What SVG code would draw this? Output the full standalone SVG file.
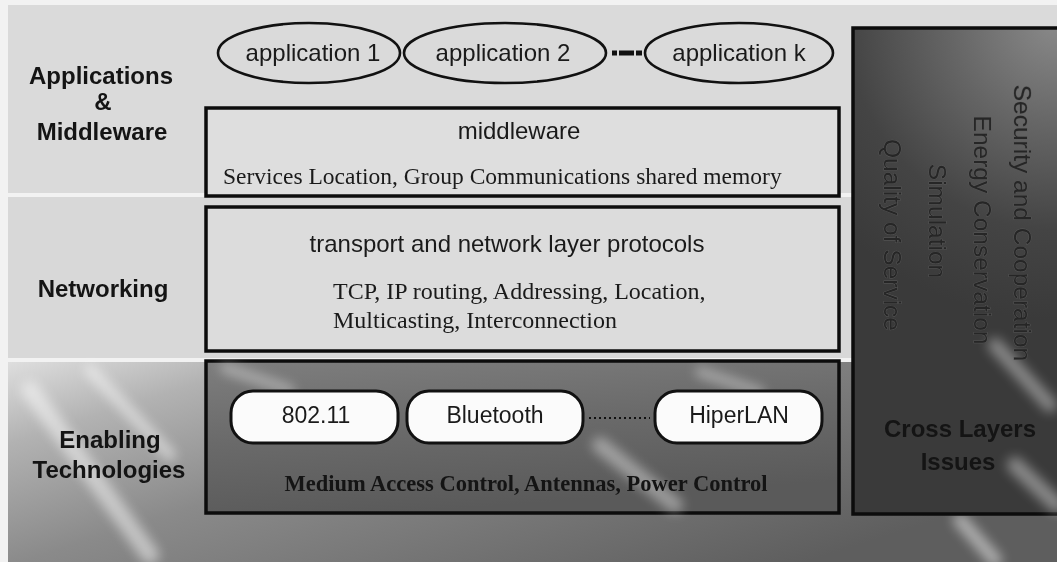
<svg xmlns="http://www.w3.org/2000/svg" width="1057" height="562" viewBox="0 0 1057 562">
  <style>
    .serif { font-family: "Liberation Serif", "Times New Roman", serif; }
    .lbl { font-family: "Liberation Sans", Arial, sans-serif; font-size: 24px; font-weight: bold; fill: #141414; text-anchor: middle; }
    .app { fill: none; stroke: #111; stroke-width: 2.6; }
    .apptxt { font-family: "Liberation Sans", Arial, sans-serif; font-size: 24px; fill: #1a1a1a; text-anchor: middle; }
    .layer { stroke: #0c0c0c; stroke-width: 3.5; }
    .pill { fill: #fbfbfb; stroke: #111; stroke-width: 3; }
    .pilltxt { font-family: "Liberation Sans", Arial, sans-serif; font-size: 23px; fill: #1a1a1a; text-anchor: middle; }
    .vtxt { font-family: "Liberation Sans", Arial, sans-serif; font-size: 24.5px; fill: #262626; stroke: #5c5c5c; stroke-width: 0.8; paint-order: stroke; text-anchor: middle; dominant-baseline: central; }
    .streak { stroke: #ffffff; fill: none; stroke-linecap: round; filter: url(#soft); }
  </style>
  <defs>
    <filter id="soft" x="-50%" y="-50%" width="200%" height="200%">
      <feGaussianBlur stdDeviation="6"/>
    </filter>
    <linearGradient id="lowBand" x1="0" y1="0" x2="1" y2="0.6">
      <stop offset="0" stop-color="#dedede"/>
      <stop offset="0.18" stop-color="#b2b2b2"/>
      <stop offset="0.45" stop-color="#8a8a8a"/>
      <stop offset="1" stop-color="#5e5e5e"/>
    </linearGradient>
    <linearGradient id="enableFill" x1="0" y1="0" x2="0.3" y2="1">
      <stop offset="0" stop-color="#7e7e7e"/>
      <stop offset="0.5" stop-color="#6a6a6a"/>
      <stop offset="1" stop-color="#5a5a5a"/>
    </linearGradient>
    <radialGradient id="panelFill" cx="1057" cy="20" r="300" gradientUnits="userSpaceOnUse">
      <stop offset="0" stop-color="#8a8a8a"/>
      <stop offset="0.35" stop-color="#666666"/>
      <stop offset="0.7" stop-color="#444444"/>
      <stop offset="1" stop-color="#3a3a3a"/>
    </radialGradient>
  </defs>

  <!-- background bands -->
  <g id="background">
    <rect x="0" y="0" width="1057" height="562" fill="#f2f2f2"/>
    <rect x="8" y="5" width="1049" height="188" fill="#dadada"/>
    <rect x="8" y="197" width="1049" height="161" fill="#d8d8d8"/>
    <rect x="8" y="362" width="1049" height="200" fill="url(#lowBand)"/>
    <!-- soft light rays across the lower band -->
    <g opacity="0.5">
      <line class="streak" x1="30" y1="390" x2="150" y2="555" stroke-width="18"/>
      <line class="streak" x1="90" y1="370" x2="170" y2="455" stroke-width="12"/>
      <line class="streak" x1="960" y1="520" x2="995" y2="560" stroke-width="14"/>
    </g>
  </g>

  <!-- side labels -->
  <g id="label-apps">
    <text class="lbl" x="101" y="84">Applications</text>
    <text class="lbl" x="103" y="110">&amp;</text>
    <text class="lbl" x="102" y="140">Middleware</text>
  </g>
  <g id="label-net">
    <text class="lbl" x="103" y="297">Networking</text>
  </g>
  <g id="label-enabling">
    <text class="lbl" x="110" y="448" fill="#2a2a2a">Enabling</text>
    <text class="lbl" x="109" y="478" fill="#2a2a2a">Technologies</text>
  </g>

  <!-- application ellipses -->
  <g id="app1">
    <ellipse class="app" cx="309" cy="53" rx="91" ry="30"/>
    <text class="apptxt" x="313" y="61">application 1</text>
  </g>
  <g id="app2">
    <ellipse class="app" cx="505" cy="53" rx="101" ry="30"/>
    <text class="apptxt" x="503" y="61">application 2</text>
  </g>
  <g id="appk">
    <ellipse class="app" cx="739" cy="53" rx="94" ry="30"/>
    <text class="apptxt" x="739" y="61">application k</text>
  </g>

  <!-- middleware layer -->
  <g id="middleware">
    <rect class="layer" x="206" y="108" width="633" height="88" fill="#dedede"/>
    <text class="apptxt" x="519" y="139">middleware</text>
    <text class="serif" x="223" y="184" font-size="23.5" fill="#1a1a1a">Services Location, Group Communications shared memory</text>
  </g>

  <!-- transport/network layer -->
  <g id="network">
    <rect class="layer" x="206" y="207" width="633" height="144" fill="#dcdcdc"/>
    <text class="apptxt" x="507" y="252">transport and network layer protocols</text>
    <text class="serif" x="333" y="299" font-size="24" fill="#1a1a1a">TCP, IP routing, Addressing, Location,</text>
    <text class="serif" x="333" y="328" font-size="24" fill="#1a1a1a">Multicasting, Interconnection</text>
  </g>

  <!-- enabling technologies layer -->
  <g id="enabling">
    <rect class="layer" x="206" y="361" width="633" height="152" fill="url(#enableFill)"/>
    <g opacity="0.4">
      <line class="streak" x1="225" y1="368" x2="290" y2="390" stroke-width="10"/>
      <line class="streak" x1="600" y1="445" x2="675" y2="505" stroke-width="16"/>
      <line class="streak" x1="700" y1="372" x2="760" y2="392" stroke-width="10"/>
    </g>
    <text class="serif" x="526" y="491" font-size="22.5" font-weight="bold" fill="#141414" text-anchor="middle">Medium Access Control, Antennas, Power Control</text>
  </g>

  <g id="tech-80211">
    <rect class="pill" x="231" y="391" width="167" height="52" rx="22"/>
    <text class="pilltxt" x="316" y="423">802.11</text>
  </g>
  <g id="tech-bluetooth">
    <rect class="pill" x="407" y="391" width="176" height="52" rx="22"/>
    <text class="pilltxt" x="495" y="423">Bluetooth</text>
  </g>
  <g id="tech-hiperlan">
    <rect class="pill" x="655" y="391" width="167" height="52" rx="22"/>
    <text class="pilltxt" x="739" y="423">HiperLAN</text>
  </g>

  <!-- cross-layer panel -->
  <g id="cross-layers">
    <rect x="853" y="28" width="210" height="486" fill="url(#panelFill)" stroke="#0c0c0c" stroke-width="3.5"/>
    <g opacity="0.4">
      <line class="streak" x1="995" y1="345" x2="1050" y2="405" stroke-width="14"/>
      <line class="streak" x1="1015" y1="465" x2="1057" y2="505" stroke-width="16"/>
    </g>
    <text class="vtxt" transform="translate(1022 223) rotate(90)">Security and Cooperation</text>
    <text class="vtxt" transform="translate(982 230) rotate(90)">Energy Conservation</text>
    <text class="vtxt" transform="translate(937 221) rotate(90)">Simulation</text>
    <text class="vtxt" transform="translate(892 235) rotate(90)">Quality of Service</text>
    <text class="lbl" x="960" y="437" fill="#1e1e1e">Cross Layers</text>
    <text class="lbl" x="958" y="470" fill="#1e1e1e">Issues</text>
  </g>

  <!-- connectors: ellipsis links between sibling items -->
  <g id="connectors">
    <line x1="612" y1="53" x2="644" y2="53" stroke="#111" stroke-width="5" stroke-dasharray="5 2 15 2 6"/>
    <line x1="589" y1="418" x2="650" y2="418" stroke="#111" stroke-width="2" stroke-dasharray="2 3"/>
  </g>
</svg>
